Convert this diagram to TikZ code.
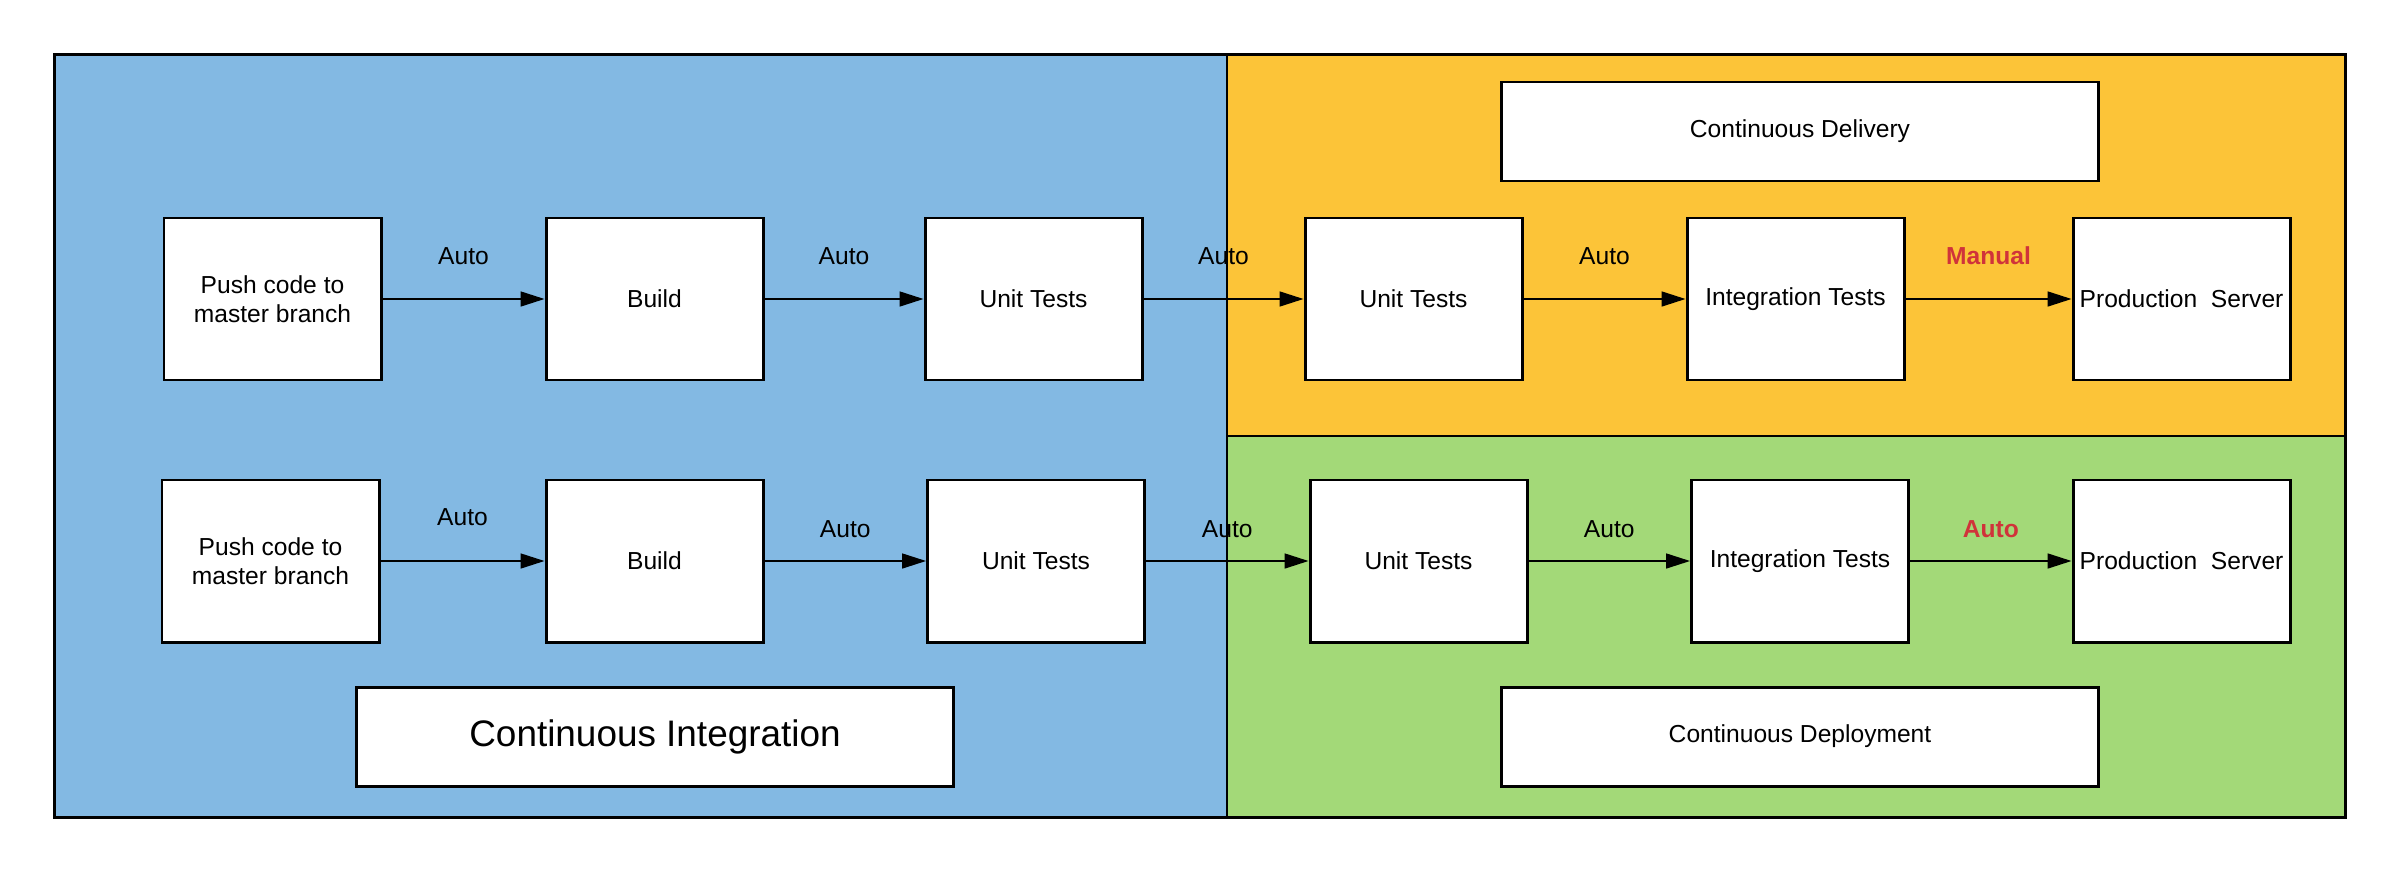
\documentclass[tikz,border=0pt]{standalone}
\usepackage{fontspec}
\setmainfont{Liberation Sans}
\usepackage{tikz}
\usetikzlibrary{positioning,arrows.meta,calc}
\definecolor{ciblue}{HTML}{83B9E3}
\definecolor{cdorange}{HTML}{FCC438}
\definecolor{cdgreen}{HTML}{A3D978}
\definecolor{mred}{HTML}{D0333A}

\begin{document}
\begin{tikzpicture}
  \tikzstyle{mythick}=[line width=0.85pt];
  \tikzstyle{bx}=[draw=black,fill=white,rectangle,mythick,minimum width=2.17cm,minimum height=1.62cm,align=center,inner sep=1pt,font=\fontsize{7}{8.3}\selectfont]
  \tikzstyle{title}=[draw=black,fill=white,rectangle,mythick,minimum width=5.97cm,minimum height=0.99cm,font=\fontsize{7}{8.3}\selectfont]
  \tikzstyle{ed}=[draw=black,line width=0.45pt,-{Triangle[length=0.24cm,width=0.15cm]}]
  \tikzstyle{lbl}=[font=\fontsize{7}{8.3}\selectfont,inner sep=0pt]
  \tikzstyle{hot}=[lbl,text=mred,font=\fontsize{7}{8.3}\selectfont\bfseries]
  \useasboundingbox (0,0) rectangle (24,-8.72);
  % regions
  \draw [fill=ciblue,line width=0.6pt] (0.547,-0.547) rectangle (12.267,-8.17);
  \draw [fill=cdorange,line width=0.6pt] (12.267,-0.547) rectangle (23.457,-4.357);
  \draw [fill=cdgreen,line width=0.6pt] (12.267,-4.357) rectangle (23.457,-8.17);
  \draw [mythick] (0.547,-0.547) rectangle (23.457,-8.17);
  % titles
  \node [title] (cd) at (18.0,-1.315) {Continuous Delivery};
  \node [title] (cdep) at (18.0,-7.365) {Continuous Deployment};
  \node [title,font=\fontsize{10.5}{12}\selectfont] (ci) at (6.55,-7.365) {Continuous Integration};
  % delivery row
  \node [bx] (p1) at (2.725,-2.99) {Push code to\\master branch};
  \node [bx] (b1) at (6.545,-2.99) {Build};
  \node [bx] (u1) at (10.335,-2.99) {Unit Tests};
  \node [bx] (v1) at (14.135,-2.99) {Unit Tests};
  \node [bx] (i1) at (17.955,-2.99) {Integration Tests};
  \node [bx] (s1) at (21.815,-2.99) {Production\ \ Server};
  % deployment row
  \node [bx] (p2) at (2.705,-5.61) {Push code to\\master branch};
  \node [bx] (b2) at (6.545,-5.61) {Build};
  \node [bx] (u2) at (10.36,-5.61) {Unit Tests};
  \node [bx] (v2) at (14.185,-5.61) {Unit Tests};
  \node [bx] (i2) at (18.0,-5.61) {Integration Tests};
  \node [bx] (s2) at (21.815,-5.61) {Production\ \ Server};
  \draw [ed] (p1) -- node [lbl,midway,yshift=0.43cm] {Auto} (b1);
  \draw [ed] (b1) -- node [lbl,midway,yshift=0.43cm] {Auto} (u1);
  \draw [ed] (u1) -- node [lbl,midway,yshift=0.43cm] {Auto} (v1);
  \draw [ed] (v1) -- node [lbl,midway,yshift=0.43cm] {Auto} (i1);
  \draw [ed] (i1) -- node [hot,midway,yshift=0.43cm] {Manual} (s1);
  \draw [ed] (p2) -- node [lbl,midway,yshift=0.44cm] {Auto} (b2);
  \draw [ed] (b2) -- node [lbl,midway,yshift=0.32cm] {Auto} (u2);
  \draw [ed] (u2) -- node [lbl,midway,yshift=0.32cm] {Auto} (v2);
  \draw [ed] (v2) -- node [lbl,midway,yshift=0.32cm] {Auto} (i2);
  \draw [ed] (i2) -- node [hot,midway,yshift=0.32cm] {Auto} (s2);
\end{tikzpicture}
\end{document}
